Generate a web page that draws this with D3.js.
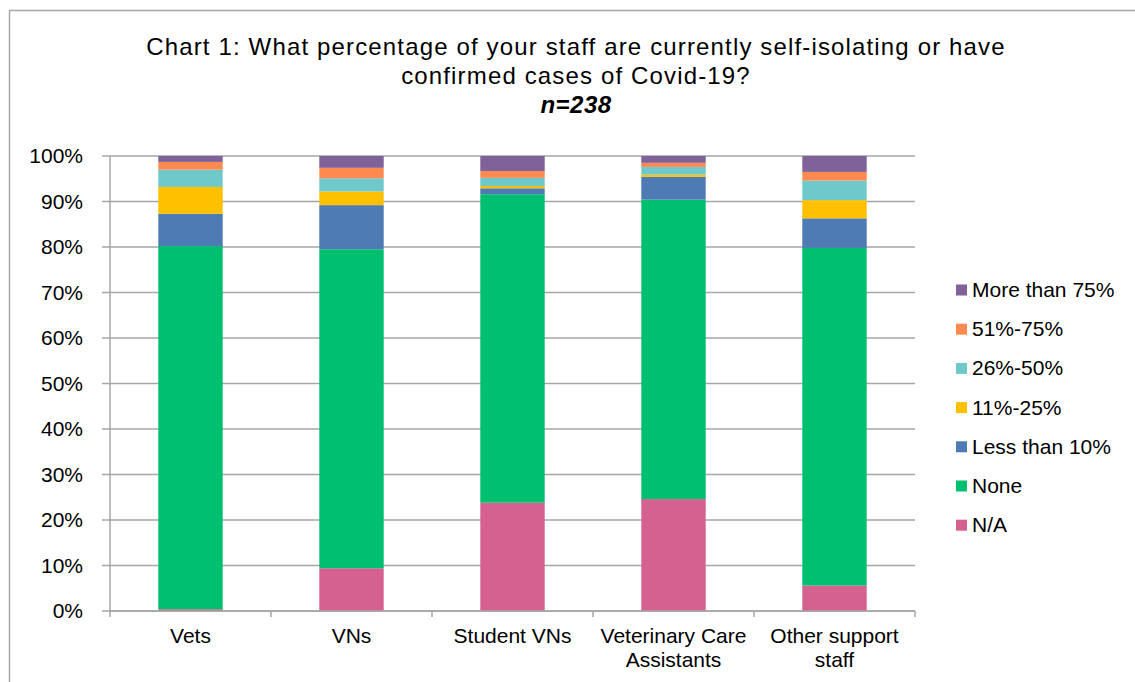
<!DOCTYPE html>
<html><head><meta charset="utf-8">
<script src="https://cdn.jsdelivr.net/npm/d3@7"></script>
<style>body{margin:0;background:#fff}svg{display:block;font-family:"Liberation Sans",Arial,sans-serif}</style>
</head><body><svg id="c" width="1135" height="682"></svg>
<script>
const categories = ["Vets", "VNs", "Student VNs", "Veterinary Care Assistants", "Other support staff"];
const categoryLines = [["Vets"], ["VNs"], ["Student VNs"], ["Veterinary Care", "Assistants"], ["Other support", "staff"]];
const seriesNames = ["N/A", "None", "Less than 10%", "11%-25%", "26%-50%", "51%-75%", "More than 75%"];
const naVals     = [0.4, 9.4, 23.8, 24.6, 5.6];
const noneVals   = [79.8, 70.1, 67.8, 65.8, 74.2];
const lt10Vals   = [7.1, 9.7, 1.3, 5.0, 6.5];
const p11Vals    = [5.9, 3.0, 0.5, 0.5, 4.0];
const p26Vals    = [3.8, 2.9, 1.8, 1.7, 4.3];
const p51Vals    = [1.7, 2.3, 1.5, 0.9, 1.9];
const gt75Vals   = [1.3, 2.6, 3.3, 1.5, 3.5];
const yTicks = [0, 10, 20, 30, 40, 50, 60, 70, 80, 90, 100];
const titleLines = ["Chart 1: What percentage of your staff are currently self-isolating or have", "confirmed cases of Covid-19?"];
const subtitle = "n=238";
const colors = ["#D46190", "#00BF6F", "#4F7BB4", "#FFC000", "#6FC8CA", "#FF8A50", "#80629A"];

(function () {
const seriesVals = [naVals, noneVals, lt10Vals, p11Vals, p26Vals, p51Vals, gt75Vals];
const rows = categories.map((c, i) => {
  const r = {cat: c};
  seriesNames.forEach((s, k) => r[s] = seriesVals[k][i]);
  return r;
});
const stacked = d3.stack().keys(seriesNames)(rows);

const svg = d3.select("#c");
svg.append("rect").attr("x", 9.5).attr("y", 10.5).attr("width", 1140).attr("height", 700)
  .attr("fill", "none").attr("stroke", "#A6A6A6").attr("stroke-width", 1.5);

const pL = 110, pR = 915, pT = 156, pB = 611;
const x = d3.scaleBand().domain(categories).range([pL, pR]).paddingInner(0.6).paddingOuter(0.3);
const xb = d3.scaleBand().domain(categories).range([pL, pR]);
const y = d3.scaleLinear().domain([0, 100]).range([pB, pT]);

// title
const t = svg.append("g").attr("text-anchor", "middle").attr("fill", "#000");
titleLines.forEach((l, i) => t.append("text").attr("x", 576).attr("y", 55 + i * 29)
  .attr("font-size", 24).attr("letter-spacing", "1.15px").text(l));
t.append("text").attr("x", 576).attr("y", 113).attr("font-size", 24).attr("letter-spacing", "0.5px")
  .attr("font-weight", "bold").attr("font-style", "italic").text(subtitle);

// gridlines
svg.append("g").selectAll("line").data(yTicks).join("line")
  .attr("x1", pL - 8).attr("x2", pR).attr("y1", d => y(d)).attr("y2", d => y(d))
  .attr("stroke", "#A6A6A6").attr("stroke-width", 1.5);
svg.append("line").attr("x1", pL).attr("x2", pL).attr("y1", pT).attr("y2", pB)
  .attr("stroke", "#A6A6A6").attr("stroke-width", 1.5);

// y labels
svg.append("g").selectAll("text").data(yTicks).join("text")
  .attr("x", 83).attr("y", d => y(d) + 7).attr("text-anchor", "end").attr("font-size", 21)
  .text(d => d + "%");

// bars
svg.append("g").selectAll("g").data(stacked).join("g")
  .attr("fill", (d, i) => colors[i])
  .selectAll("rect").data(d => d).join("rect")
  .attr("x", d => x(d.data.cat)).attr("width", x.bandwidth())
  .attr("y", d => y(d[1])).attr("height", d => y(d[0]) - y(d[1]));

// x axis ticks
const bounds = categories.map(c => xb(c)).concat([pR]);
svg.append("g").selectAll("line").data(bounds).join("line")
  .attr("x1", d => d).attr("x2", d => d).attr("y1", pB).attr("y2", pB + 6)
  .attr("stroke", "#A6A6A6").attr("stroke-width", 1.5);
svg.append("line").attr("x1", pL).attr("x2", pR).attr("y1", pB).attr("y2", pB)
  .attr("stroke", "#A6A6A6").attr("stroke-width", 1.5);

// x labels
const xl = svg.append("g").attr("text-anchor", "middle").attr("font-size", 21);
categories.forEach((c, i) => {
  categoryLines[i].forEach((l, j) => xl.append("text")
    .attr("x", xb(c) + xb.bandwidth() / 2).attr("y", 643 + j * 24).text(l));
});

// legend
const legOrder = seriesNames.slice().reverse();
const lg = svg.append("g");
legOrder.forEach((s, i) => {
  const cy = 290 + i * 39.2;
  lg.append("rect").attr("x", 956).attr("y", cy - 5.5).attr("width", 11).attr("height", 11)
    .attr("fill", colors[seriesNames.indexOf(s)]);
  lg.append("text").attr("x", 972).attr("y", cy + 7).attr("font-size", 21).text(s);
});
})();
</script></body></html>
